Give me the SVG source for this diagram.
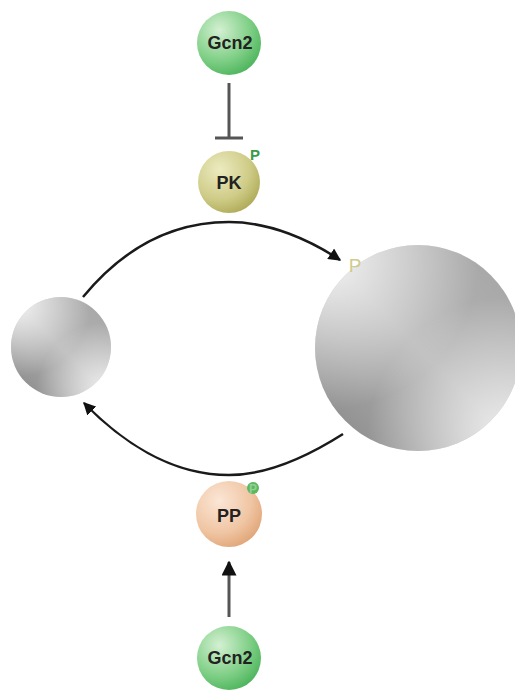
<svg xmlns="http://www.w3.org/2000/svg" width="515" height="691" viewBox="0 0 515 691">
<defs>
<radialGradient id="gGreen" cx="0.35" cy="0.3" r="0.8">
<stop offset="0" stop-color="#d4f0d2"/><stop offset="0.6" stop-color="#7fcf86"/><stop offset="1" stop-color="#45b055"/>
</radialGradient>
<radialGradient id="gOlive" cx="0.35" cy="0.3" r="0.8">
<stop offset="0" stop-color="#ecebc0"/><stop offset="0.6" stop-color="#cfcc88"/><stop offset="1" stop-color="#aaa550"/>
</radialGradient>
<radialGradient id="gPeach" cx="0.35" cy="0.3" r="0.8">
<stop offset="0" stop-color="#fbe6d6"/><stop offset="0.6" stop-color="#f0c6a4"/><stop offset="1" stop-color="#dea070"/>
</radialGradient>
<linearGradient id="gGreyBase" x1="1" y1="0" x2="0" y2="1">
<stop offset="0" stop-color="#a4a4a4"/><stop offset="0.5" stop-color="#b4b4b4"/><stop offset="1" stop-color="#858585"/>
</linearGradient>
<radialGradient id="gHiTL" cx="0.05" cy="0.05" r="0.75">
<stop offset="0" stop-color="#ffffff" stop-opacity="0.85"/><stop offset="1" stop-color="#ffffff" stop-opacity="0"/>
</radialGradient>
<radialGradient id="gHiBR" cx="0.95" cy="0.95" r="0.7">
<stop offset="0" stop-color="#ffffff" stop-opacity="0.8"/><stop offset="1" stop-color="#ffffff" stop-opacity="0"/>
</radialGradient>
<marker id="arr" viewBox="0 0 10 10" refX="9" refY="5" markerWidth="5" markerHeight="5" orient="auto" markerUnits="strokeWidth">
<path d="M0,0 L10,5 L0,10 z" fill="#111"/>
</marker>
</defs>
<style>
.lbl{font-family:"Liberation Sans",Arial,sans-serif;font-weight:bold;font-size:18px;fill:#222;text-anchor:middle}
.p{font-family:"Liberation Sans",Arial,sans-serif;text-anchor:middle}
.edge{fill:none;stroke:#1a1a1a;stroke-width:2.5}
</style>
<g id="connectors">
<path class="edge" d="M83,297 C130,240 180,222 229,222 C270,222 310,240 340,260" marker-end="url(#arr)"/>
<path class="edge" d="M343,434 C310,455 270,475 229,475 C170,475 120,440 84,403" marker-end="url(#arr)"/>
<line x1="229" y1="83" x2="229" y2="138" stroke="#555" stroke-width="3"/>
<line x1="215" y1="138" x2="243" y2="138" stroke="#555" stroke-width="3"/>
<line x1="229" y1="617" x2="229" y2="562" stroke="#555" stroke-width="3" marker-end="url(#arr)"/>
</g>
<g id="gcn2-top">
<circle cx="229" cy="43" r="32" fill="url(#gGreen)"/>
<text class="lbl" x="230" y="49">Gcn2</text>
</g>
<g id="pk">
<circle cx="229" cy="182" r="31" fill="url(#gOlive)"/>
<text class="lbl" x="229" y="189">PK</text>
<text class="p" x="255" y="160" fill="#3c9a48" font-size="15" font-weight="bold">P</text>
</g>
<g id="left">
<circle cx="61" cy="347" r="50" fill="url(#gGreyBase)"/>
<circle cx="61" cy="347" r="50" fill="url(#gHiTL)"/>
<circle cx="61" cy="347" r="50" fill="url(#gHiBR)"/>
</g>
<g id="right">
<circle cx="418" cy="348" r="103" fill="url(#gGreyBase)"/>
<circle cx="418" cy="348" r="103" fill="url(#gHiTL)"/>
<circle cx="418" cy="348" r="103" fill="url(#gHiBR)"/>
<text class="p" x="355" y="272" fill="#cfcb8e" font-size="19">P</text>
</g>
<g id="pp">
<circle cx="229" cy="514" r="33" fill="url(#gPeach)"/>
<text class="lbl" x="229" y="522">PP</text>
<circle cx="253" cy="488" r="6" fill="#5cb860"/>
<text class="p" x="253" y="493" fill="#8fd090" font-size="12" font-weight="bold">P</text>
</g>
<g id="gcn2-bottom">
<circle cx="229" cy="658" r="32" fill="url(#gGreen)"/>
<text class="lbl" x="230" y="664">Gcn2</text>
</g>
</svg>
